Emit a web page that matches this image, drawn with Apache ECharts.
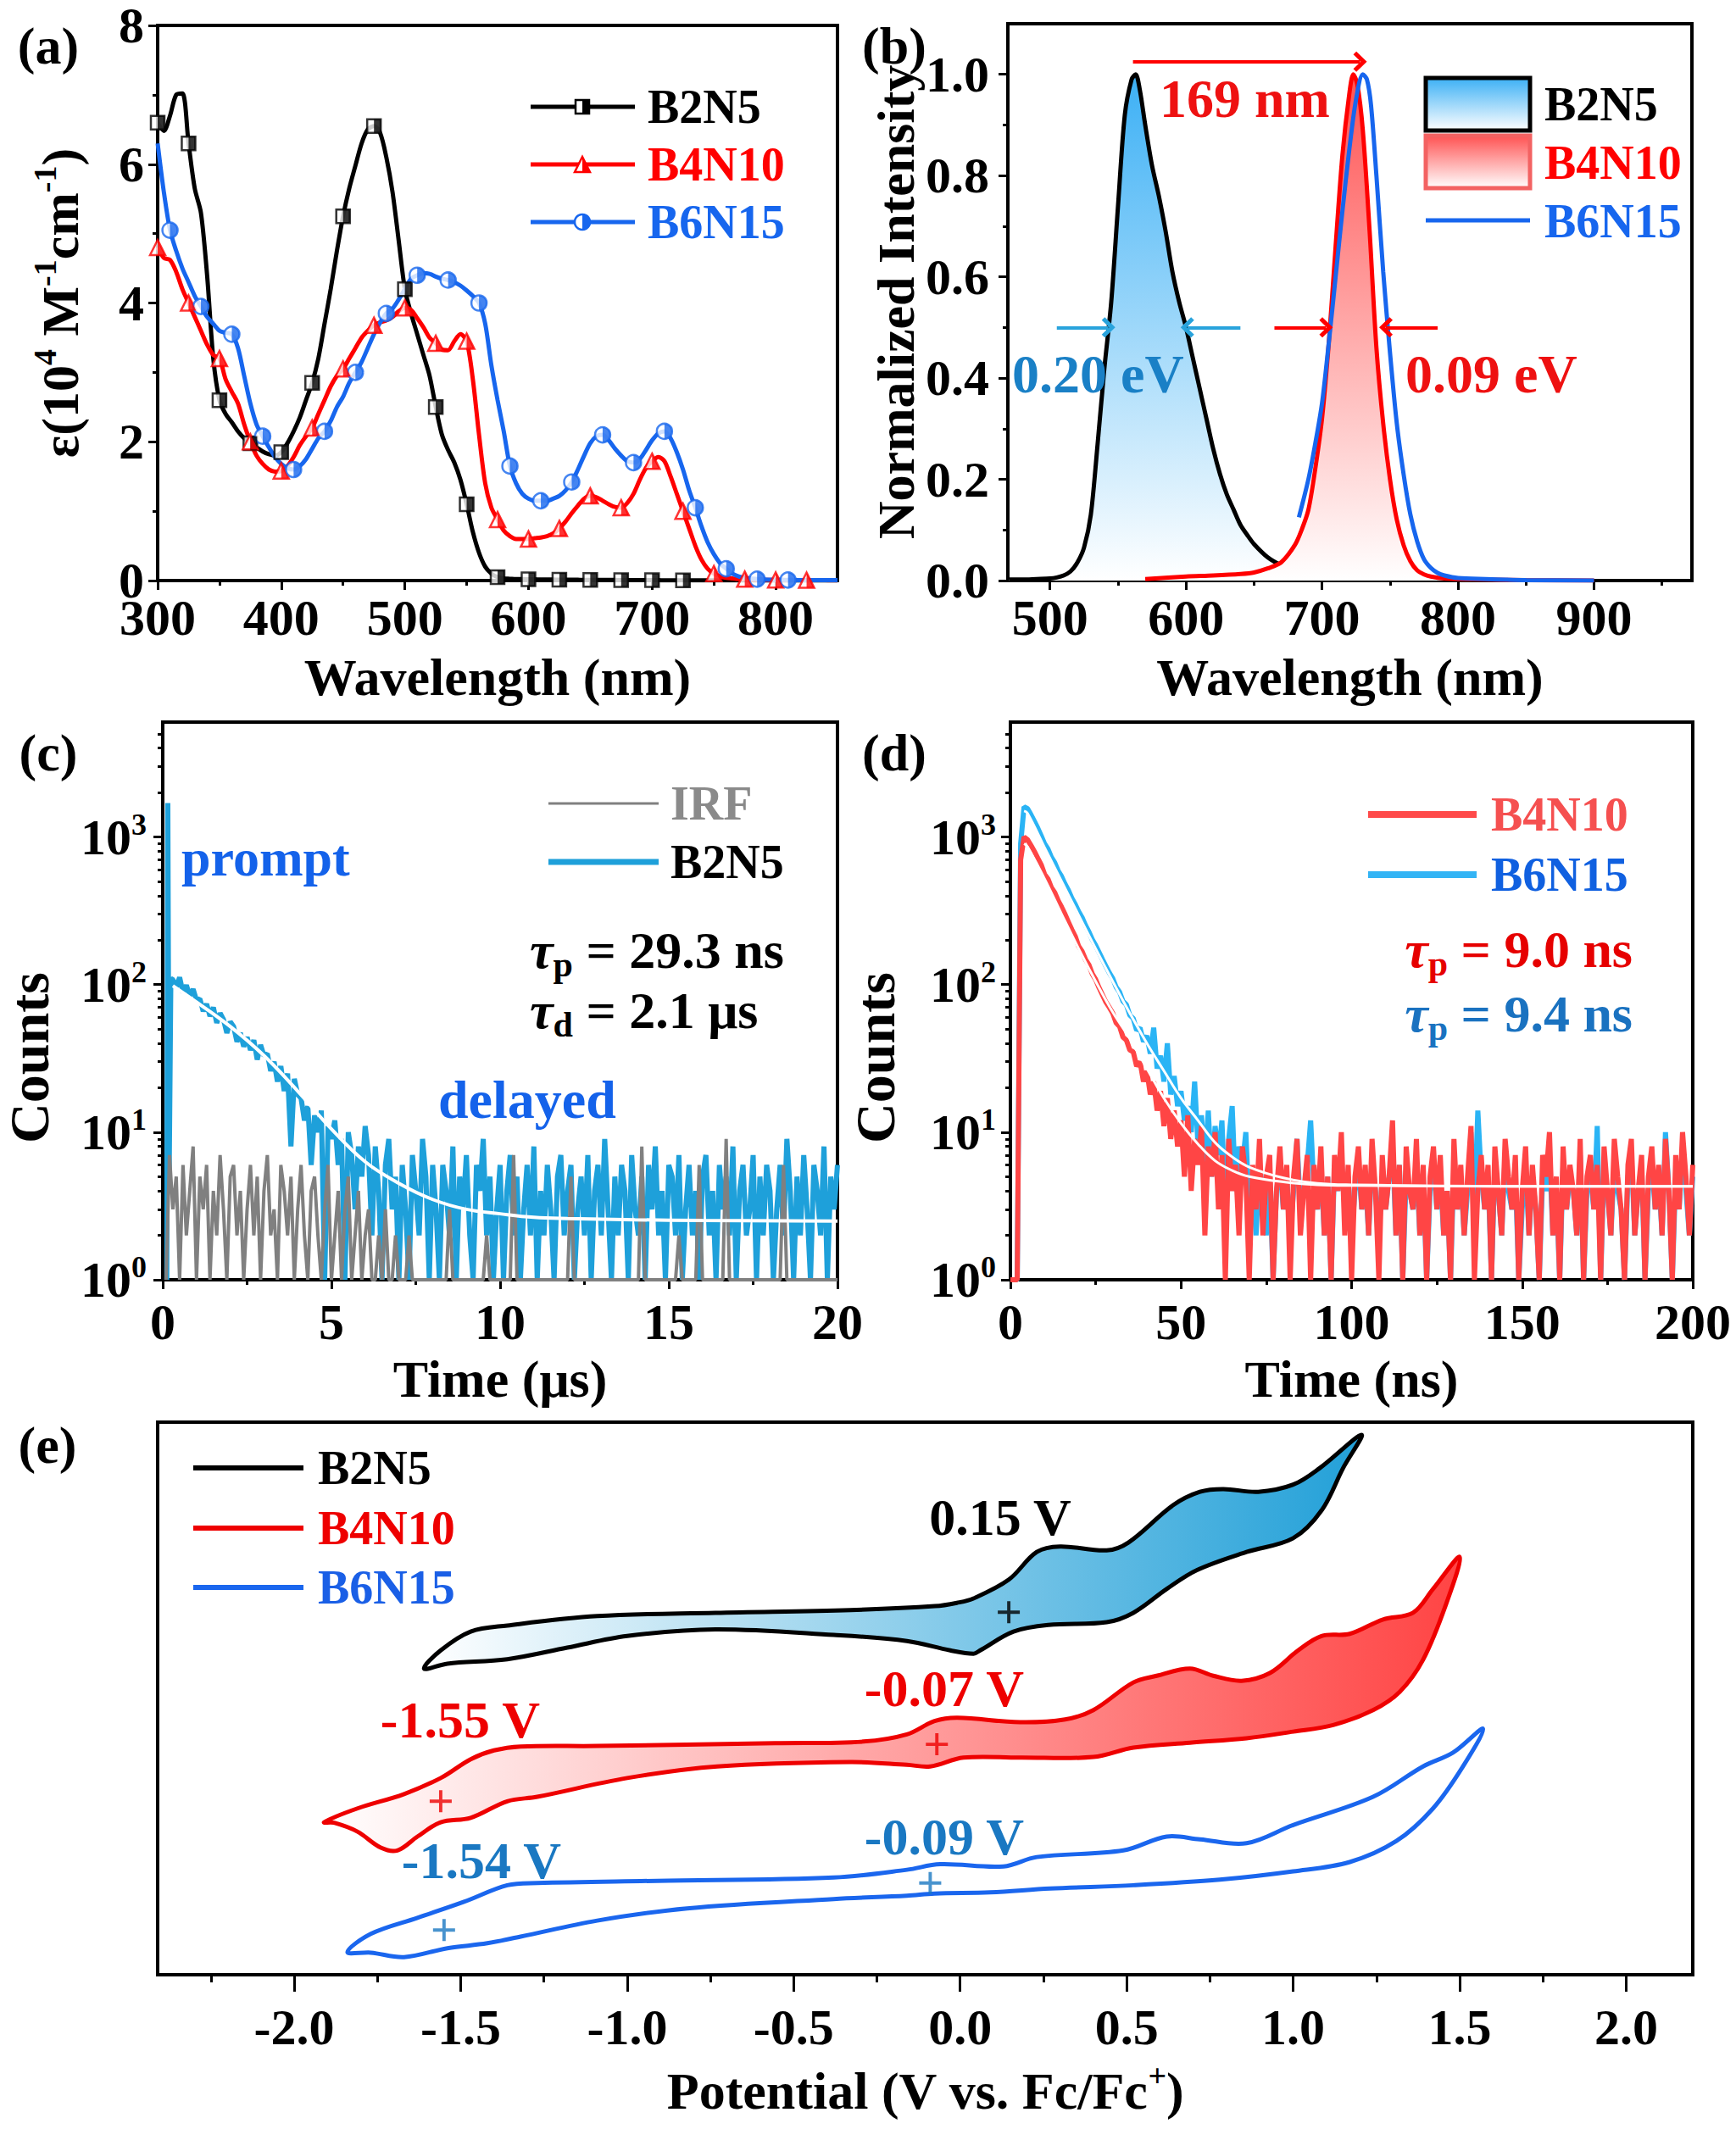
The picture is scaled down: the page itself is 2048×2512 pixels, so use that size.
<!DOCTYPE html>
<html>
<head>
<meta charset="utf-8">
<script src="https://cdn.jsdelivr.net/npm/echarts@6/dist/echarts.min.js"></script>
<style>html,body{margin:0;padding:0;background:#fff}#chart{width:2048px;height:2512px}</style>
</head>
<body>
<div id="chart"></div>
<script>
var FONT = '"Liberation Serif","Times New Roman",serif';

// (a) absorption, 300-850 nm every 5 nm
var absStart = 300, absStep = 5;
var absB2N5 = [6.6,6.48,6.7,7.0,7.02,6.3,5.65,5.3,4.4,3.2,2.6,2.4,2.28,2.15,2.05,1.98,1.92,1.86,1.82,1.8,
  1.85,1.98,2.15,2.35,2.6,2.85,3.2,3.7,4.2,4.75,5.25,5.65,5.98,6.3,6.5,6.55,6.45,6.1,5.6,4.9,
  4.2,3.85,3.55,3.25,2.95,2.5,2.1,1.88,1.7,1.45,1.1,0.7,0.4,0.2,0.1,0.05,0.03,0.025,0.02,0.02,
  0.018,0.017,0.016,0.015,0.014,0.013,0.012,0.012,0.011,0.01,0.01,0.009,0.009,0.008,0.008,0.007,0.007,0.006,0.006,0.005,
  0.005,0.005,0.004,0.004,0.004,0.003,0.003,0.003,0.003,0.002,0.002,0.002,0.002,0.002,0.002,0.001,0.001,0.001,0.001,0.001,
  0.001,0.001,0.001,0.001,0.001,0.001,0,0,0,0,0];
var absB4N10 = [4.8,4.65,4.62,4.45,4.2,4.0,3.8,3.6,3.4,3.25,3.2,2.9,2.72,2.55,2.25,2.0,1.8,1.68,1.6,1.57,
  1.58,1.65,1.78,1.95,2.08,2.2,2.4,2.6,2.8,2.95,3.05,3.2,3.35,3.5,3.6,3.68,3.72,3.75,3.8,3.88,
  3.93,3.9,3.78,3.65,3.5,3.42,3.33,3.32,3.45,3.55,3.45,2.9,2.1,1.4,1.05,0.88,0.72,0.64,0.6,0.6,
  0.6,0.61,0.62,0.64,0.68,0.75,0.85,0.97,1.08,1.18,1.22,1.2,1.15,1.1,1.06,1.05,1.12,1.25,1.45,1.62,
  1.72,1.78,1.72,1.5,1.25,1.0,0.75,0.5,0.3,0.17,0.1,0.06,0.04,0.03,0.02,0.02,0.015,0.012,0.01,0.01,
  0.008,0.008,0.007,0.007,0.006,0.006,0.005,0.005,0.005,0.004,0.004];
var absB6N15 = [6.3,5.6,5.05,4.75,4.5,4.3,4.1,3.95,3.8,3.7,3.6,3.57,3.55,3.35,2.95,2.55,2.25,2.08,1.92,1.78,
  1.68,1.62,1.6,1.65,1.75,1.9,2.05,2.15,2.3,2.5,2.65,2.85,3.0,3.15,3.35,3.55,3.72,3.85,3.92,4.05,
  4.2,4.35,4.4,4.43,4.42,4.38,4.35,4.33,4.3,4.25,4.18,4.1,4.0,3.7,3.1,2.6,2.15,1.65,1.4,1.25,
  1.18,1.15,1.15,1.15,1.18,1.22,1.3,1.42,1.6,1.8,1.98,2.08,2.1,2.02,1.9,1.8,1.72,1.7,1.75,1.88,
  2.02,2.12,2.15,2.05,1.85,1.6,1.3,1.05,0.78,0.55,0.38,0.25,0.17,0.1,0.06,0.04,0.03,0.02,0.015,0.012,
  0.01,0.009,0.008,0.008,0.007,0.007,0.006,0.006,0.005,0.005,0.005];
var markWlB2N5 = [300,325,350,375,400,425,450,475,500,525,550,575,600,625,650,675,700,725];
var markWlB4N10 = [300,325,350,375,400,425,450,475,500,525,550,575,600,625,650,675,700,725,750,775,800,825];
var markWlB6N15 = [310,335,360,385,410,435,460,485,510,535,560,585,610,635,660,685,710,735,760,785,810];
var absTicksX = [300,400,500,600,700,800], absMinorX = [350,450,550,650,750];
var absTicksY = [0,2,4,6,8], absMinorY = [1,3,5,7];

// (b) normalized PL
var plWlB2N5 = [470,480,490,500,505,510,515,520,525,530,535,540,545,550,555,560,563,566,570,575,580,585,590,595,600,605,610,615,620,625,630,635,640,645,650,660,670,680,690,700,720,740,760,780,800];
var plB2N5 = [0.002,0.002,0.003,0.004,0.006,0.01,0.018,0.035,0.065,0.13,0.27,0.42,0.55,0.74,0.92,0.99,1.0,0.97,0.9,0.82,0.76,0.69,0.61,0.55,0.5,0.44,0.38,0.32,0.26,0.21,0.17,0.14,0.11,0.09,0.072,0.046,0.03,0.019,0.012,0.008,0.005,0.003,0.002,0.002,0.001];
var plWlB4N10 = [570,600,620,640,650,660,670,680,685,690,695,700,705,710,715,720,723,726,730,735,740,745,750,755,760,765,770,775,780,790,800,820,850,900];
var plB4N10 = [0.003,0.008,0.01,0.013,0.016,0.024,0.036,0.07,0.1,0.14,0.22,0.32,0.47,0.66,0.84,0.96,1.0,0.98,0.89,0.69,0.46,0.31,0.2,0.12,0.07,0.038,0.02,0.012,0.008,0.004,0.003,0.002,0.001,0];
var plWlB6N15 = [683,690,695,700,705,710,715,720,725,730,733,736,740,745,750,755,760,765,770,775,780,785,790,800,820,850,900];
var plB6N15 = [0.125,0.2,0.27,0.35,0.47,0.6,0.73,0.85,0.95,1.0,0.99,0.94,0.8,0.61,0.45,0.31,0.21,0.13,0.077,0.042,0.025,0.015,0.01,0.005,0.003,0.001,0];
var plShiftArrow = [[561,1.025],[728,1.025]];
var fwhmArrowsB2N5 = [[[505,0.5],[543,0.5]],[[640,0.5],[601,0.5]]];
var fwhmArrowsB4N10 = [[[665,0.5],[703,0.5]],[[785,0.5],[747,0.5]]];
var plTicksX = [500,600,700,800,900], plMinorX = [550,650,750,850,950];
var plTicksY = [0,0.2,0.4,0.6,0.8,1.0], plMinorY = [0.1,0.3,0.5,0.7,0.9];

// (c) transient PL, microseconds
var cPromptT = [0.12,0.15,0.19,0.24];
var cPromptV = [1,1700,5,110];
var cStart = 0.3, cStep = 0.1;
var cB2N5 = [108,96,112,88,99,84,93,78,
  80,66,74,61,70,55,64,58,47,56,
  52,41,47,38,44,36,42,31,39,33,
  34,26,30,22,28,19,25,8,23,18,
  17,12,15,6,13,10,14,1,11,9,
  12,6,9,1,10,7,3,8,5,11,
  7,2,8,4,1,6,9,3,5,1,
  6,3,1,7,4,2,9,5,1,6,
  3,1,6,4,2,8,1,5,3,7,2,1,6,4,9,2,5,1,3,6,
  1,4,7,2,5,1,3,6,2,8,1,4,2,6,3,1,5,7,2,4,
  6,1,3,5,2,7,1,4,6,2,9,3,1,5,2,6,4,1,7,3,
  2,5,1,6,3,8,2,4,1,6,5,2,7,1,3,6,2,4,1,5,
  7,2,4,1,6,3,5,2,8,1,4,6,2,3,7,1,5,2,6,4,
  1,3,6,2,9,4,1,5,2,7,3,1,6,4,2,8,1,5,3,6];
var irfStart = 0.1, irfStep = 0.1;
var cIRF = [1,7,3,5,1,6,2,4,8,1, 5,3,6,1,4,2,7,3,1,5, 6,2,4,1,3,6,2,5,1,4, 7,2,3,1,6,4,2,5,1,3,
  6,2,1,4,5,2,1,3,6,1, 2,4,1,3,5,1,2,4,1,2, 3,1,1,2,1,3,1,1,2,1,
  1,1,2,1,1,1,1,1,1,1, 1,1,1,1,3,1,1,1,1,1, 1,1,1,1,1,2,1,1,1,1, 1,1,1,7,1,1,1,1,1,1,
  1,1,1,1,1,1,1,1,1,1, 5,1,1,1,1,1,1,1,1,1, 1,1,1,1,1,1,1,1,1,1, 1,8,1,1,1,1,1,1,1,1,
  1,1,2,1,1,1,1,1,6,1, 1,1,1,1,1,1,9,1,1,1, 1,1,1,1,1,1,1,1,1,1, 1,1,1,6,1,1,1,1,1,1,
  1,1,1,1,1,1,1,1,1,1];
var cFitT = [0.3,1,2,3,4,5,6,7,8,9,10,11,12,14,16,20];
var cFitV = [98,76,52,33,19,10.5,6.3,4.5,3.5,3.0,2.8,2.65,2.6,2.55,2.52,2.5];
var cTicksX = [0,5,10,15,20], cMinorX = [2.5,7.5,12.5,17.5];

// (d) transient PL, nanoseconds (1 ns per point)
var dStart = 0, dStep = 1;
var dB4N10 = [1,1,1,700,1000,960,880,800,720,650, 560,520,455,420,370,335,300,265,236,212,
  182,168,148,136,118,108,95,85,76,70, 64,55,52,44,42,36,35,28,30,22, 26,18,22,14,19,11,17,9,14,8,
  12,5,13,4,9,6,11,2,8,5, 10,3,7,1,9,4,6,2,8,5, 1,6,3,9,2,5,7,1,4,8, 3,6,1,5,9,2,4,7,1,6,
  3,8,2,5,1,7,4,10,2,6, 1,5,8,3,6,2,9,4,1,7, 3,5,12,2,6,1,8,4,3,9, 2,6,1,5,8,3,7,2,4,1,
  9,3,6,2,5,11,1,4,7,3, 6,1,8,4,2,9,5,3,7,1, 4,8,2,6,3,1,7,5,10,2, 5,1,8,3,6,4,2,9,1,5,
  7,3,6,1,8,4,2,9,5,3, 1,6,9,2,4,7,1,5,8,3, 6,2,9,4,1,7,3,10,5,2, 6];
var dB6N15 = [1,1,1,900,1600,1560,1420,1280,1150,1020, 900,830,730,670,590,540,480,435,385,350,
  312,285,252,228,202,184,165,148,133,120, 110,96,89,77,73,62,59,49,51,41, 45,34,51,27,33,22,40,18,24,15,
  19,12,15,10,22,8,13,6,14,5, 11,7,12,3,9,15,4,8,6,10,
  3,5,2,6,4,2,5,1,4,6, 3,5,2,4,9,3,4,6,12,4, 3,6,2,5,1,6,4,7,3,5, 2,4,6,3,5,2,7,4,2,5,
  3,5,8,2,6,1,5,4,3,6, 2,5,1,4,6,3,5,2,4,1, 6,3,5,2,4,10,3,14,5,3, 5,1,6,4,2,7,4,3,5,1,
  3,6,2,5,3,1,5,4,7,2, 4,1,6,3,5,4,2,7,1,4, 5,3,11,1,6,4,2,6,4,3, 1,5,7,2,4,6,1,4,6,3,
  5,2,10,4,1,5,3,8,4,2, 5];
var dFitT = [4,5,10,15,20,25,30,35,40,45,50,55,60,65,70,80,90,100,150,200];
var dFitB4N10 = [900,860,520,300,175,105,65,43,27,17,11.5,8.3,6.4,5.5,5.0,4.6,4.4,4.35,4.3,4.3];
var dFitB6N15 = [1500,1450,850,500,295,175,105,64,40,26,17,12,8.5,6.8,5.8,4.9,4.5,4.4,4.3,4.3];
var dTicksX = [0,50,100,150,200], dMinorX = [25,75,125,175];
var logTicks = [1,10,100,1000];
var logMinor = [2,3,4,5,6,7,8,9,20,30,40,50,60,70,80,90,200,300,400,500,600,700,800,900,2000,3000,4000,5000];

// (e) cyclic voltammetry loops (potential V vs Fc/Fc+, current in arbitrary units)
var cvB2N5V = [-1.61,-1.56,-1.47,-1.36,-1.09,-0.735,-0.33,-0.076,-0.01,0.04,0.146,0.23,0.30,0.44,0.505,0.64,0.72,0.79,0.895,1.0,1.08,1.205,
  1.15,1.085,1.0,0.86,0.71,0.62,0.52,0.44,0.265,0.16,0.06,0.04,-0.03,-0.16,-0.38,-0.735,-1.0,-1.18,-1.36,-1.54];
var cvB2N5I = [55.4,58.7,62.1,63.2,64.9,65.5,66,66.7,67.3,68.1,71.5,76.5,77.5,76.8,78.2,85,87.4,87.9,87.4,88.7,91.7,97.7,
  91.7,84,79,76.5,73.2,69.8,65.5,63.8,63.3,62.1,58.7,58.1,58.7,60.4,61.5,62.5,61.3,59.2,57.1,56.3];
var cvB4N10V = [-1.91,-1.81,-1.67,-1.56,-1.47,-1.40,-1.32,-1.09,-0.556,-0.29,-0.16,-0.077,-0.008,0.18,0.315,0.40,0.52,0.59,0.69,0.76,0.845,0.93,1.015,1.085,1.17,1.27,1.36,1.42,1.50,
  1.46,1.39,1.32,1.24,1.12,1.0,0.86,0.69,0.52,0.40,0.18,0.01,-0.09,-0.16,-0.33,-0.73,-1.0,-1.27,-1.36,-1.47,-1.56,-1.63,-1.69,-1.74,-1.81,-1.88];
var cvB4N10I = [27.6,30.1,32.7,35.6,39,40.6,41.3,41.4,41.9,42.2,43.5,45.9,46.5,45.7,46.2,47.9,52.9,54.1,55.4,54.1,53.2,54.6,58.7,61.3,61.7,64.3,65.5,69.8,75.6,
  67.2,57,51.2,47.9,45.2,44,42.8,42,41.1,39.4,39.3,39.3,37.7,38,38.5,37.7,35.6,32.2,31.4,28.4,27.6,25,22.5,23,25.9,27.5];
var cvB6N15V = [-1.84,-1.77,-1.63,-1.49,-1.36,-1.27,-0.91,-0.38,-0.16,-0.06,0.13,0.23,0.49,0.62,0.72,0.86,1.0,1.24,1.39,1.48,1.57,
  1.51,1.42,1.31,1.17,1.0,0.78,0.52,0.27,0.09,-0.077,-0.16,-0.38,-0.82,-1.09,-1.32,-1.42,-1.54,-1.67,-1.77];
var cvB6N15I = [4.1,7.4,10.3,13.2,16.2,16.6,17,17.6,19,20,19.6,21.3,22.5,25,24.5,23.8,27.1,32.2,37.7,40.2,44.5,
  37.7,30.1,24.2,20.4,18.7,17.2,16.2,15.6,14.9,14.7,14.3,13.7,12,9.8,6.9,5.7,4.8,3.2,4];
var cvPeaksB2N5 = [[0.146,65.6]];
var cvPeaksB4N10 = [[-0.07,41.7],[-1.56,31.4]];
var cvPeaksB6N15 = [[-0.09,16.6],[-1.55,8.1]];
var cvTicksX = [-2.0,-1.5,-1.0,-0.5,0.0,0.5,1.0,1.5,2.0];
var cvMinorX = [-2.25,-1.75,-1.25,-0.75,-0.25,0.25,0.75,1.25,1.75];

// colours
var RED = '#ff0000', BLUE = '#1766ee', SKY = '#1ea0da', GREY = '#808080';

var ARROW = 'path://M0,12L12,0L24,12L20.5,15.5L12,7L3.5,15.5Z';
var PLUS = 'path://M8.5,0H11.5V8.5H20V11.5H11.5V20H8.5V11.5H0V8.5H8.5Z';
var HALF_RECT = 'path://M0,0H10V20H0Z';
var HALF_CIRC = 'path://M0,0A10,10 0 0 1 0,20Z';
var HALF_TRI = 'path://M0,0L10,20L0,20Z';

function seq(start, step, vals) {
  return vals.map(function (v, k) { return [+(start + k * step).toFixed(3), v]; });
}
function zip(xs, ys) {
  return xs.map(function (x, k) { return [x, ys[k]]; });
}
function pick(arr, wls) {
  return wls.map(function (w) { return [w, arr[(w - absStart) / absStep]]; });
}
function rs(size, extra) {
  var o = { fontFamily: FONT, fontWeight: 'bold', fontSize: size };
  for (var k in extra) o[k] = extra[k];
  return o;
}
function grad(dir, c0, c1) {
  return new echarts.graphic.LinearGradient(0, 0, dir === 'h' ? 1 : 0, dir === 'h' ? 0 : 1,
    [{ offset: 0, color: c0 }, { offset: 1, color: c1 }]);
}

var supRich = {
  b: rs(60, { color: '#000', lineHeight: 66 }),
  s: rs(36, { color: '#000', verticalAlign: 'top', lineHeight: 36 })
};
function logFmt(v) { return '{b|10}{s|' + Math.round(Math.log(v) / Math.LN10) + '}'; }

function axisMain(gi, min, max, ticks, opt) {
  var a = {
    type: opt.type || 'value', gridIndex: gi, min: min, max: max,
    position: opt.pos,
    axisLine: { show: false },
    axisTick: { show: true, inside: false, length: opt.tickLen || 11, customValues: ticks, lineStyle: { color: '#000', width: 3 } },
    axisLabel: { show: true, customValues: ticks, margin: opt.margin, formatter: opt.fmt, lineHeight: 48,
      fontFamily: FONT, fontWeight: 'bold', fontSize: 60, color: '#000', rich: opt.rich },
    splitLine: { show: false },
    name: opt.name, nameLocation: 'middle', nameGap: opt.gap, nameRotate: opt.rotate,
    nameTextStyle: { fontFamily: FONT, fontWeight: 'bold', fontSize: opt.nameSize || 62, color: '#000',
      lineHeight: 60, rich: opt.nameRich, padding: opt.namePad || 0 }
  };
  if (opt.type === 'log') a.logBase = 10;
  return a;
}
function axisMinor(gi, min, max, ticks, pos, type, len) {
  var a = { type: type || 'value', gridIndex: gi, min: min, max: max, position: pos,
    axisLine: { show: false },
    axisTick: { show: true, inside: false, length: len || 6, customValues: ticks, lineStyle: { color: '#000', width: 3 } },
    axisLabel: { show: false }, splitLine: { show: false } };
  if (type === 'log') a.logBase = 10;
  return a;
}

var gridBox = { show: true, borderColor: '#000', borderWidth: 4, backgroundColor: 'transparent' };
function g(l, t, w, h) { return Object.assign({ left: l, top: t, width: w, height: h }, gridBox); }

var nameRich = {
  n: rs(62, { color: '#000', lineHeight: 74 }),
  s: rs(38, { color: '#000', verticalAlign: 'top', lineHeight: 40 })
};

var xAxes = [
  axisMain(0, 300, 850, absTicksX, { pos: 'bottom', margin: 20, name: 'Wavelength (nm)', gap: 84 }),
  axisMinor(0, 300, 850, absMinorX, 'bottom'),
  axisMain(1, 469, 972, plTicksX, { pos: 'bottom', margin: 20, name: 'Wavelength (nm)', gap: 84 }),
  axisMinor(1, 469, 972, plMinorX, 'bottom'),
  axisMain(2, 0, 20, cTicksX, { pos: 'bottom', margin: 26, name: 'Time (μs)', gap: 87 }),
  axisMinor(2, 0, 20, cMinorX, 'bottom'),
  axisMain(3, 0, 200, dTicksX, { pos: 'bottom', margin: 26, name: 'Time (ns)', gap: 87 }),
  axisMinor(3, 0, 200, dMinorX, 'bottom'),
  axisMain(4, -2.41, 2.2, cvTicksX, { pos: 'bottom', margin: 38, tickLen: 20, gap: 100,
    fmt: function (v) { return v.toFixed(1); },
    name: '{n|Potential (V vs. Fc/Fc}{s|+}{n|)}', nameRich: nameRich }),
  axisMinor(4, -2.41, 2.2, cvMinorX, 'bottom', 'value', 9)
];
var yAxes = [
  axisMain(0, 0, 8, absTicksY, { pos: 'left', margin: 16, gap: 78, rotate: 90,
    name: '{n|ε(10}{s|4}{n| M}{s|-1}{n|cm}{s|-1}{n|)}', nameRich: nameRich }),
  axisMinor(0, 0, 8, absMinorY, 'left'),
  axisMain(1, 0, 1.1, plTicksY, { pos: 'left', margin: 22, gap: 100, rotate: 90, name: 'Normalized Intensity',
    fmt: function (v) { return v.toFixed(1); } }),
  axisMinor(1, 0, 1.1, plMinorY, 'left'),
  axisMain(2, 1, 6000, logTicks, { type: 'log', pos: 'left', margin: 19, gap: 128, rotate: 90, name: 'Counts',
    nameSize: 66, namePad: [0, 134, 0, 0], fmt: logFmt, rich: supRich }),
  axisMinor(2, 1, 6000, logMinor, 'left', 'log'),
  axisMain(3, 1, 6000, logTicks, { type: 'log', pos: 'left', margin: 17, gap: 130, rotate: 90, name: 'Counts',
    nameSize: 66, namePad: [0, 134, 0, 0], fmt: logFmt, rich: supRich }),
  axisMinor(3, 1, 6000, logMinor, 'left', 'log'),
  { type: 'value', gridIndex: 4, min: 0, max: 100, show: false }
];

function absLine(name, arr, color) {
  return { type: 'line', name: name, xAxisIndex: 0, yAxisIndex: 0, data: seq(absStart, absStep, arr),
    smooth: 0.3, showSymbol: false, lineStyle: { color: color, width: 5 }, itemStyle: { color: color }, z: 2 };
}
function absMarks(arr, wls, sym, size, color) {
  var d = pick(arr, wls);
  return [
    { type: 'scatter', xAxisIndex: 0, yAxisIndex: 0, data: d, symbol: sym, symbolSize: size,
      itemStyle: { color: '#fff', borderColor: color, borderWidth: 2.5 }, z: 5, silent: true },
    { type: 'scatter', xAxisIndex: 0, yAxisIndex: 0, data: d,
      symbol: sym === 'rect' ? HALF_RECT : (sym === 'circle' ? HALF_CIRC : HALF_TRI),
      symbolSize: [size / 2, size], symbolOffset: [size / 4, 0], itemStyle: { color: color }, z: 6, silent: true }
  ];
}
function arrowLines(list, color) {
  return { silent: true, animation: false, symbol: ['none', ARROW], symbolSize: [24, 16],
    label: { show: false }, emphasis: { disabled: true },
    lineStyle: { color: color, width: 4, type: 'solid' },
    data: list.map(function (a) { return [{ coord: a[0] }, { coord: a[1] }]; }) };
}
function loop(vArr, iArr, stroke, fill) {
  return { type: 'custom', xAxisIndex: 8, yAxisIndex: 8, data: [[vArr[0], iArr[0]]], silent: true, z: 2,
    renderItem: function (params, api) {
      var pts = vArr.map(function (v, k) { return api.coord([v, iArr[k]]); });
      return { type: 'polygon', shape: { points: pts, smooth: 0.35 },
        style: { fill: fill || 'none', stroke: stroke, lineWidth: 5, lineJoin: 'round' } };
    } };
}
function peaks(list, color) {
  return { type: 'scatter', xAxisIndex: 8, yAxisIndex: 8, data: list, symbol: PLUS, symbolSize: 26,
    itemStyle: { color: color }, z: 6, silent: true };
}

var series = [
  absLine('B2N5', absB2N5, '#000'),
  absLine('B4N10', absB4N10, RED),
  absLine('B6N15', absB6N15, BLUE)
].concat(absMarks(absB2N5, markWlB2N5, 'rect', 16, '#000'))
 .concat(absMarks(absB4N10, markWlB4N10, 'triangle', 18, RED))
 .concat(absMarks(absB6N15, markWlB6N15, 'circle', 18, BLUE))
 .concat([
  { type: 'line', name: 'B2N5 PL', xAxisIndex: 2, yAxisIndex: 2, data: zip(plWlB2N5, plB2N5), smooth: 0.3, showSymbol: false,
    lineStyle: { color: '#000', width: 5 }, areaStyle: { color: grad('v', '#3cb0f5', '#ffffff'), opacity: 1 }, z: 2,
    markLine: arrowLines(fwhmArrowsB2N5, '#29a3dc') },
  { type: 'line', name: 'B4N10 PL', xAxisIndex: 2, yAxisIndex: 2, data: zip(plWlB4N10, plB4N10), smooth: 0.3, showSymbol: false,
    lineStyle: { color: RED, width: 5 }, areaStyle: { color: grad('v', '#ff5252', '#ffffff'), opacity: 1 }, z: 3,
    markLine: arrowLines(fwhmArrowsB4N10.concat([plShiftArrow]), RED) },
  { type: 'line', name: 'B6N15 PL', xAxisIndex: 2, yAxisIndex: 2, data: zip(plWlB6N15, plB6N15), smooth: 0.3, showSymbol: false,
    lineStyle: { color: BLUE, width: 5 }, z: 4 },

  { type: 'line', name: 'B2N5 TRPL', xAxisIndex: 4, yAxisIndex: 4,
    data: zip(cPromptT, cPromptV).concat(seq(cStart, cStep, cB2N5)), showSymbol: false,
    lineStyle: { color: SKY, width: 6 }, z: 2 },
  { type: 'line', name: 'IRF', xAxisIndex: 4, yAxisIndex: 4, data: seq(irfStart, irfStep, cIRF), showSymbol: false,
    lineStyle: { color: GREY, width: 4 }, z: 3 },
  { type: 'line', name: 'fit c', xAxisIndex: 4, yAxisIndex: 4, data: zip(cFitT, cFitV), smooth: 0.4, showSymbol: false,
    lineStyle: { color: '#fff', width: 4 }, z: 4 },

  { type: 'line', name: 'B6N15 TRPL', xAxisIndex: 6, yAxisIndex: 6, data: seq(dStart, dStep, dB6N15), showSymbol: false,
    lineStyle: { color: '#2ab4f5', width: 6 }, z: 2 },
  { type: 'line', name: 'B4N10 TRPL', xAxisIndex: 6, yAxisIndex: 6, data: seq(dStart, dStep, dB4N10), showSymbol: false,
    lineStyle: { color: '#ff4545', width: 6 }, z: 3 },
  { type: 'line', name: 'fit d1', xAxisIndex: 6, yAxisIndex: 6, data: zip(dFitT, dFitB6N15), smooth: 0.4, showSymbol: false,
    lineStyle: { color: '#fff', width: 3 }, z: 4 },
  { type: 'line', name: 'fit d2', xAxisIndex: 6, yAxisIndex: 6, data: zip(dFitT, dFitB4N10), smooth: 0.4, showSymbol: false,
    lineStyle: { color: '#fff', width: 3 }, z: 4 },

  loop(cvB2N5V, cvB2N5I, '#000', grad('h', '#ffffff', '#22a0d8')),
  loop(cvB4N10V, cvB4N10I, '#ee0000', grad('h', '#ffffff', '#ff4444')),
  loop(cvB6N15V, cvB6N15I, '#1a66ee', null),
  peaks(cvPeaksB2N5, '#000'),
  peaks(cvPeaksB4N10, '#ee0000'),
  peaks(cvPeaksB6N15, '#1a78c2')
]);

// text / legend helpers (pixel positions)
function gText(x, y, text, color, size, align, rich) {
  return { type: 'text', x: x, y: y, z: 100, silent: true,
    style: { text: text, fill: color, fontFamily: FONT, fontWeight: 'bold', fontSize: size,
      align: align || 'left', textAlign: align || 'left', verticalAlign: 'middle', textVerticalAlign: 'middle', rich: rich } };
}
function tauRich(color) {
  return {
    t: rs(62, { fill: color, color: color, fontStyle: 'italic', lineHeight: 76 }),
    u: rs(42, { fill: color, color: color, verticalAlign: 'bottom', lineHeight: 40 }),
    m: rs(62, { fill: color, color: color, lineHeight: 76 })
  };
}
function gLine(x1, x2, y, color, w) {
  return { type: 'line', z: 100, silent: true, shape: { x1: x1, y1: y, x2: x2, y2: y }, style: { stroke: color, lineWidth: w } };
}

var graphics = [
  gText(57, 54, '(a)', '#000', 62, 'center'),
  gText(1055, 54, '(b)', '#000', 62, 'center'),
  gText(57, 888, '(c)', '#000', 62, 'center'),
  gText(1055, 888, '(d)', '#000', 62, 'center'),
  gText(56, 1705, '(e)', '#000', 62, 'center'),

  // (a) legend
  gLine(626, 749, 126, '#000', 5),
  { type: 'rect', z: 101, shape: { x: 679, y: 118, width: 16, height: 16 }, style: { fill: '#fff', stroke: '#000', lineWidth: 2.5 } },
  { type: 'rect', z: 102, shape: { x: 687, y: 118, width: 8, height: 16 }, style: { fill: '#000' } },
  gText(764, 126, 'B2N5', '#000', 56),
  gLine(626, 749, 194, RED, 5),
  { type: 'polygon', z: 101, shape: { points: [[687, 185], [678, 203], [696, 203]] }, style: { fill: '#fff', stroke: RED, lineWidth: 2.5 } },
  { type: 'polygon', z: 102, shape: { points: [[687, 185], [687, 203], [696, 203]] }, style: { fill: RED } },
  gText(764, 194, 'B4N10', RED, 56),
  gLine(626, 749, 262, BLUE, 5),
  { type: 'circle', z: 101, shape: { cx: 687, cy: 262, r: 9 }, style: { fill: '#fff', stroke: BLUE, lineWidth: 2.5 } },
  { type: 'sector', z: 102, shape: { cx: 687, cy: 262, r: 9, r0: 0, startAngle: -Math.PI / 2, endAngle: Math.PI / 2 }, style: { fill: BLUE } },
  gText(764, 262, 'B6N15', BLUE, 56),

  // (b) legend + notes
  { type: 'rect', z: 100, shape: { x: 1682, y: 92, width: 123, height: 62 }, style: { fill: grad('v', '#3cb0f5', '#ffffff'), stroke: '#000', lineWidth: 5 } },
  gText(1822, 123, 'B2N5', '#000', 56),
  { type: 'rect', z: 100, shape: { x: 1682, y: 160, width: 123, height: 62 }, style: { fill: grad('v', '#ff5252', '#ffffff'), stroke: '#f36262', lineWidth: 5 } },
  gText(1822, 192, 'B4N10', RED, 56),
  gLine(1682, 1805, 260, BLUE, 5),
  gText(1822, 261, 'B6N15', BLUE, 56),
  gText(1368, 116, '169 nm', '#ee1111', 64),
  gText(1194, 441, '0.20 eV', '#1a80c6', 64),
  gText(1658, 441, '0.09 eV', '#ee1111', 64),

  // (c) legend + notes
  gLine(647, 777, 948, GREY, 3),
  gText(791, 948, 'IRF', '#8a8a8a', 56),
  gLine(647, 777, 1017, SKY, 7),
  gText(791, 1017, 'B2N5', '#000', 56),
  gText(214, 1012, 'prompt', '#1462ea', 62),
  gText(517, 1297, 'delayed', '#1462ea', 64),
  gText(625, 1121, '{t|τ}{u|p}{m| = 29.3 ns}', '#000', 62, 'left', tauRich('#000')),
  gText(625, 1192, '{t|τ}{u|d}{m| = 2.1 μs}', '#000', 62, 'left', tauRich('#000')),

  // (d) legend + notes
  gLine(1614, 1742, 961, '#ff4a4a', 8),
  gText(1759, 961, 'B4N10', '#f55050', 56),
  gLine(1614, 1742, 1032, '#33b4f5', 8),
  gText(1759, 1032, 'B6N15', '#1060e0', 56),
  gText(1926, 1120, '{t|τ}{u|p}{m| = 9.0 ns}', '#e60000', 62, 'right', tauRich('#e60000')),
  gText(1926, 1196, '{t|τ}{u|p}{m| = 9.4 ns}', '#1a72c0', 62, 'right', tauRich('#1a72c0')),

  // (e) legend + notes
  gLine(228, 358, 1732, '#000', 6),
  gText(375, 1732, 'B2N5', '#000', 56),
  gLine(228, 358, 1803, '#ee0000', 6),
  gText(375, 1803, 'B4N10', '#ee0000', 56),
  gLine(228, 358, 1873, '#1a66ee', 6),
  gText(375, 1873, 'B6N15', '#1a5fe6', 56),
  gText(1180, 1790, '0.15 V', '#000', 62, 'center'),
  gText(1114, 1992, '-0.07 V', '#ee0000', 62, 'center'),
  gText(543, 2029, '-1.55 V', '#ee0000', 62, 'center'),
  gText(568, 2195, '-1.54 V', '#1a78c2', 62, 'center'),
  gText(1114, 2167, '-0.09 V', '#1a78c2', 62, 'center')
];

var chart = echarts.init(document.getElementById('chart'), null, { renderer: 'svg', width: 2048, height: 2512 });
chart.setOption({
  backgroundColor: '#fff',
  animation: false,
  textStyle: { fontFamily: FONT },
  grid: [g(186, 28, 802, 657), g(1189, 28, 807, 657), g(185, 852, 803, 658), g(1192, 852, 805, 658), g(186, 1678, 1811, 652)],
  xAxis: xAxes,
  yAxis: yAxes,
  series: series,
  graphic: { elements: graphics }
});
</script>
</body>
</html>
